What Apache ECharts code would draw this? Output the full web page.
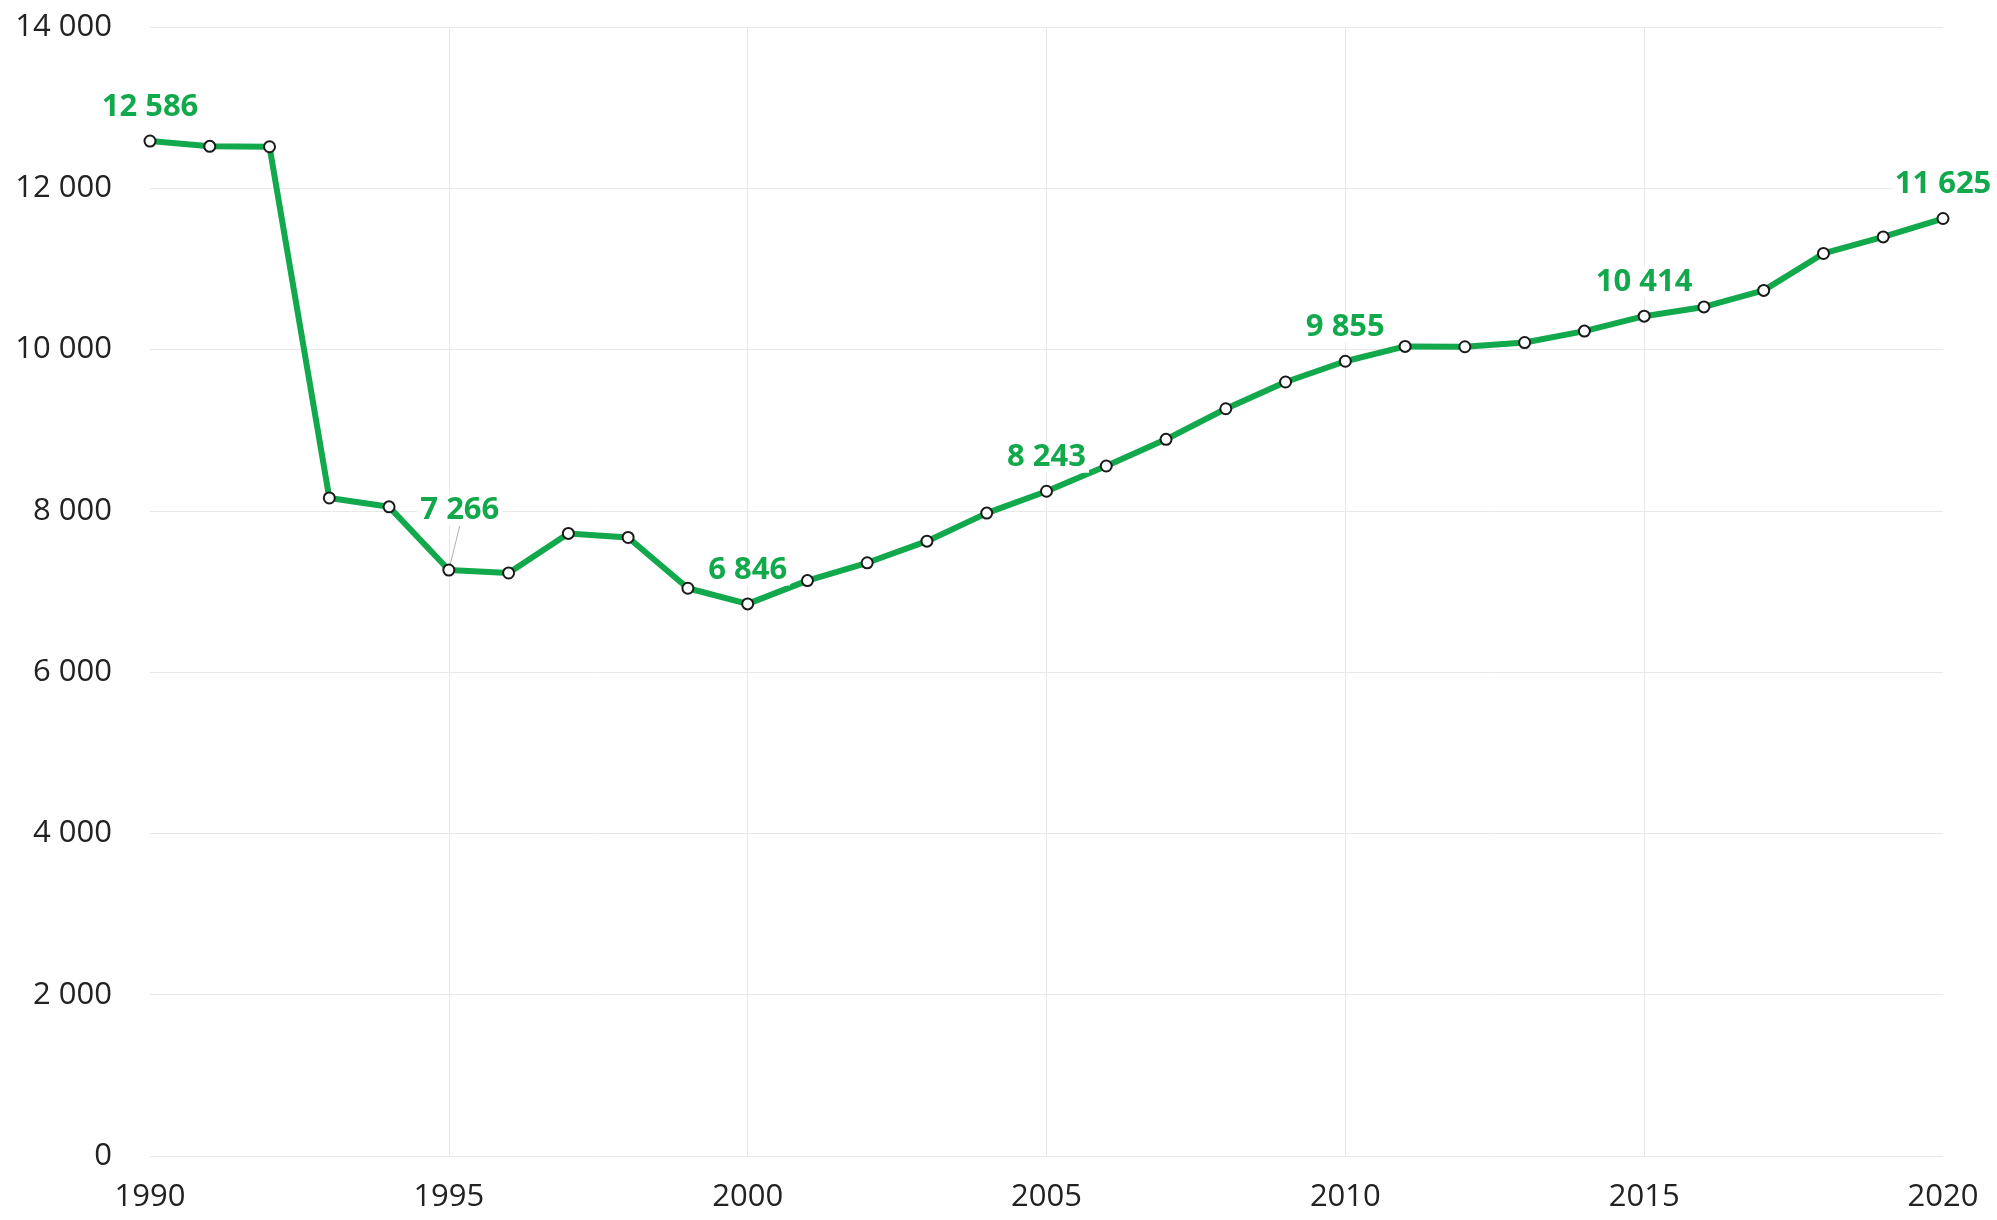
<!DOCTYPE html>
<html>
<head>
<meta charset="utf-8">
<script src="https://cdn.jsdelivr.net/npm/echarts@6/dist/echarts.min.js"></script>
<style>
  html, body { margin: 0; padding: 0; background: #fff; }
  #chart { width: 1997px; height: 1220px; }
</style>
</head>
<body>
<div id="chart"></div>
<script>
// years on the x axis
const years = [];
for (let y = 1990; y <= 2020; y++) years.push(String(y));

// values (labelled points are exact)
const values = [
    12586, 12520, 12515, 8160, 8050,
    7266, 7230, 7720, 7670, 7040,
    6846, 7135, 7356, 7624, 7972,
    8243, 8556, 8887, 9266, 9598,
    9855, 10039, 10035, 10087, 10229,
    10414, 10529, 10734, 11192, 11397,
    11625
];

// which points carry a value label
const labelledYears = ['1990', '1995', '2000', '2005', '2010', '2015', '2020'];

const green = '#12a84c';
const fmt = v => String(v).replace(/\B(?=(\d{3})+(?!\d))/g, ' ');

const seriesData = values.map((v, i) => {
    const item = { value: v };
    if (labelledYears.includes(years[i])) {
        item.label = { show: true };
        if (years[i] === '1995') {
            item.labelLine = { show: true, lineStyle: { color: '#b0b0b0', width: 1 } };
        }
    }
    return item;
});

let chart = echarts.init(document.getElementById('chart'));
chart.setOption({
    animation: false,
    backgroundColor: '#fff',
    grid: {
        left: 150,
        right: 54,
        top: 27,
        bottom: 64
    },
    xAxis: {
        type: 'category',
        boundaryGap: false,
        data: years,
        axisLine: { show: false },
        axisTick: { show: false },
        axisLabel: {
            interval: 4,
            margin: 26,
            color: '#222',
            fontFamily: 'Open Sans',
            fontSize: 31
        },
        splitLine: {
            show: true,
            // no vertical line on the two edges
            interval: idx => idx % 5 === 0 && idx !== 0 && idx !== years.length - 1,
            lineStyle: { color: '#e8e8e8', width: 1 }
        }
    },
    yAxis: {
        type: 'value',
        min: 0,
        max: 14000,
        interval: 2000,
        axisLine: { show: false },
        axisTick: { show: false },
        axisLabel: {
            margin: 38,
            color: '#222',
            fontFamily: 'Open Sans',
            fontSize: 31,
            formatter: v => fmt(v)
        },
        splitLine: { lineStyle: { color: '#e8e8e8', width: 1 } }
    },
    series: [
        {
            type: 'line',
            data: seriesData,
            lineStyle: { color: green, width: 6 },
            itemStyle: { color: '#fff', borderColor: '#1a1a1a', borderWidth: 2 },
            symbol: 'circle',
            symbolSize: 11,
            label: {
                show: false,
                position: 'top',
                distance: 12,
                color: green,
                fontFamily: 'Open Sans',
                fontWeight: 'bold',
                fontSize: 31,
                backgroundColor: '#fff',
                padding: [0, 3],
                formatter: p => fmt(p.value)
            },
            labelLayout: p => (p.dataIndex === 5 ? { dx: 11, dy: -26 } : {}),
            z: 3
        }
    ]
});
</script>
</body>
</html>
